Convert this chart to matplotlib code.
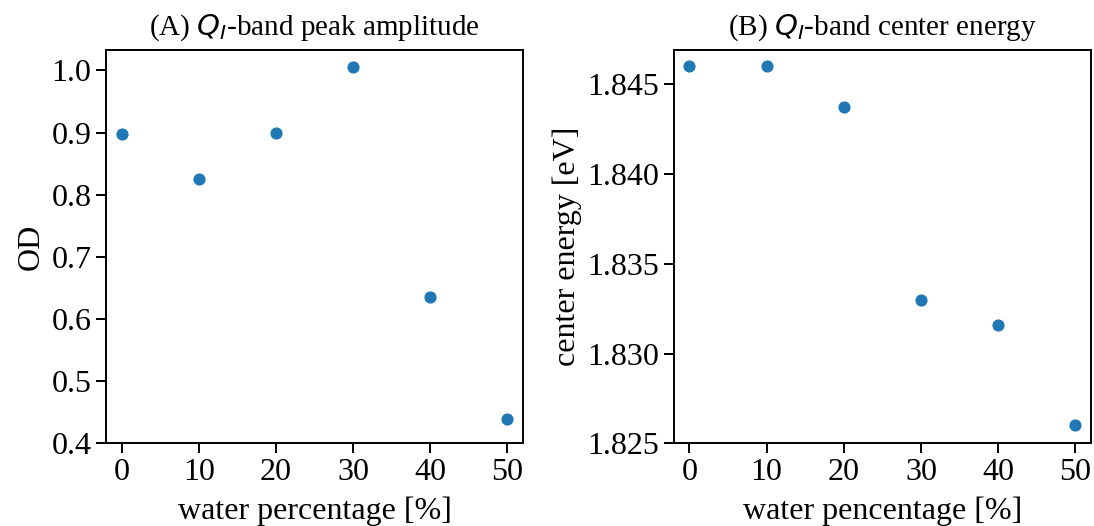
import numpy as np
import matplotlib
matplotlib.use('agg')
import matplotlib.pyplot as plt

plt.rcParams['font.family'] = ['Liberation Serif', 'DejaVu Serif']
plt.rcParams['font.size'] = 23

water = [0, 10, 20, 30, 40, 50]
peak_od = [0.898, 0.826, 0.899, 1.006, 0.636, 0.439]
center_ev = [1.8460, 1.8460, 1.8437, 1.8330, 1.8316, 1.8260]

fig, (ax1, ax2) = plt.subplots(1, 2, figsize=(10.94, 5.26), dpi=100)
plt.subplots_adjust(left=0.097, right=0.997, bottom=0.157, top=0.905, wspace=0.363)

for ax in (ax1, ax2):
    for sp in ax.spines.values():
        sp.set_linewidth(1.4)
    ax.tick_params(length=7, width=1.4, labelsize=23)

ax1.scatter(water, peak_od, s=60, color='#1f77b4')
ax1.set_title('(A) $Q_I$-band peak amplitude', fontsize=21, pad=11)
ax1.set_xlabel('water percentage [%]', labelpad=7)
ax1.set_ylabel('OD')
ax1.set_xlim(-2, 52)
ax1.set_ylim(0.4, 1.033)
ax1.set_xticks([0, 10, 20, 30, 40, 50])
ax1.set_yticks([0.4, 0.5, 0.6, 0.7, 0.8, 0.9, 1.0])

ax2.scatter(water, center_ev, s=60, color='#1f77b4')
ax2.set_title('(B) $Q_I$-band center energy', fontsize=21, pad=11)
ax2.set_xlabel('water pencentage [%]', labelpad=7)
ax2.set_ylabel('center energy [eV]')
ax2.set_xlim(-2, 52)
ax2.set_ylim(1.825, 1.8469)
ax2.set_xticks([0, 10, 20, 30, 40, 50])
ax2.set_yticks([1.825, 1.830, 1.835, 1.840, 1.845])
ax2.set_yticklabels(['1.825', '1.830', '1.835', '1.840', '1.845'])

plt.savefig('out.png', dpi=100)
plt.close()
